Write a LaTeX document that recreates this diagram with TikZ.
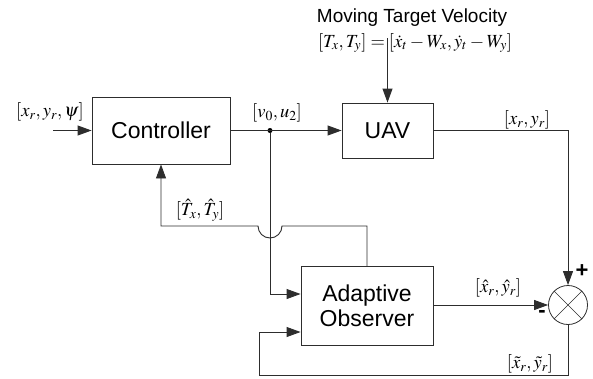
\documentclass[tikz,border=0pt]{standalone}
\usepackage{mathptmx}
\usepackage[no-math]{fontspec}
\setmainfont{Liberation Sans}
\usetikzlibrary{positioning, arrows.meta, calc}
\definecolor{linegrey}{RGB}{45,45,45}
\tikzset{
    blockbox/.style={rectangle, draw=linegrey, line width=0.9pt, align=center, font=\fontsize{23}{25}\selectfont, inner sep=2pt},
    sumbox/.style={circle, draw=linegrey, line width=0.8pt, minimum size=39pt, inner sep=0pt},
    joindot/.style={circle, fill=black, minimum size=5pt, inner sep=0pt},
    arr/.style={-{Triangle[length=14pt, width=10pt]}, line width=0.9pt, color=linegrey},
    plainline/.style={line width=0.9pt, color=linegrey},
    sig/.style={font=\fontsize{18.5}{20}\selectfont, inner sep=0pt},
    heading/.style={font=\fontsize{19}{21}\selectfont, inner sep=1pt},
    signmark/.style={font=\bfseries\fontsize{22}{22}\selectfont, inner sep=0pt}
}
\begin{document}
\begin{tikzpicture}[x=1pt, y=-1pt]
    \useasboundingbox (0,0) rectangle (593,378);

    % Blocks
    \node[blockbox, minimum width=138pt, minimum height=67pt] (ctrl) at (161,130.5) {Controller};
    \node[blockbox, minimum width=91pt, minimum height=55pt] (uav) at (387.5,130.5) {UAV};
    \node[blockbox, minimum width=132pt, minimum height=79pt] (obs) at (367,306) {Adaptive\\Observer};
    \node[sumbox] (sum) at (568,305) {};
    \draw[line width=0.5pt, color=linegrey] (sum.45) -- (sum.225) (sum.135) -- (sum.315);

    % Points
    \coordinate (in) at (53,130.5);
    \node[joindot] (split) at (270,130.5) {};
    \coordinate (tgt) at (387.5,38);

    % Texts
    \node[heading] (tgttitle) at (412,18) {Moving Target Velocity};
    \node[sig] (tgtvel) at (415,43) {$[T_x, T_y] = [\dot{x}_t - W_x, \dot{y}_t - W_y]$};
    \node[sig] (reflab) at (50,112) {$[x_r, y_r, \psi]$};
    \node[sig] (cmdlab) at (277,113) {$[v_0, u_2]$};
    \node[sig] (poslab) at (527,120) {$[x_r, y_r]$};
    \node[sig] (estlab) at (200,210) {$[\hat{T}_x, \hat{T}_y]$};
    \node[sig] (obslab) at (498,288) {$[\hat{x}_r, \hat{y}_r]$};
    \node[sig] (errlab) at (530,364) {$[\tilde{x}_r, \tilde{y}_r]$};
    \node[signmark] (plus) at (582,271) {+};
    \node[signmark] (minus) at (542,314) {-};

    % Connectors
    \draw[arr] (in) -- (ctrl.west);
    \draw[arr] (ctrl.east) -- (uav.west);
    \draw[arr] (tgt) -- (uav.north);
    \draw[arr] (uav.east) -| (sum.north);
    \draw[arr] (split) |- (obs.west |- 0,294);
    \draw[arr] (obs.east |- sum.west) -- (sum.west);
    \draw[arr] (sum.south) |- (259,375) |- (obs.west |- 0,332);
    \draw[arr] (obs.north) -- (obs.north |- 0,226) -- (282,226)
        arc[start angle=0, end angle=180, radius=12] -- (ctrl.south |- 0,226) -- (ctrl.south);
\end{tikzpicture}
\end{document}
